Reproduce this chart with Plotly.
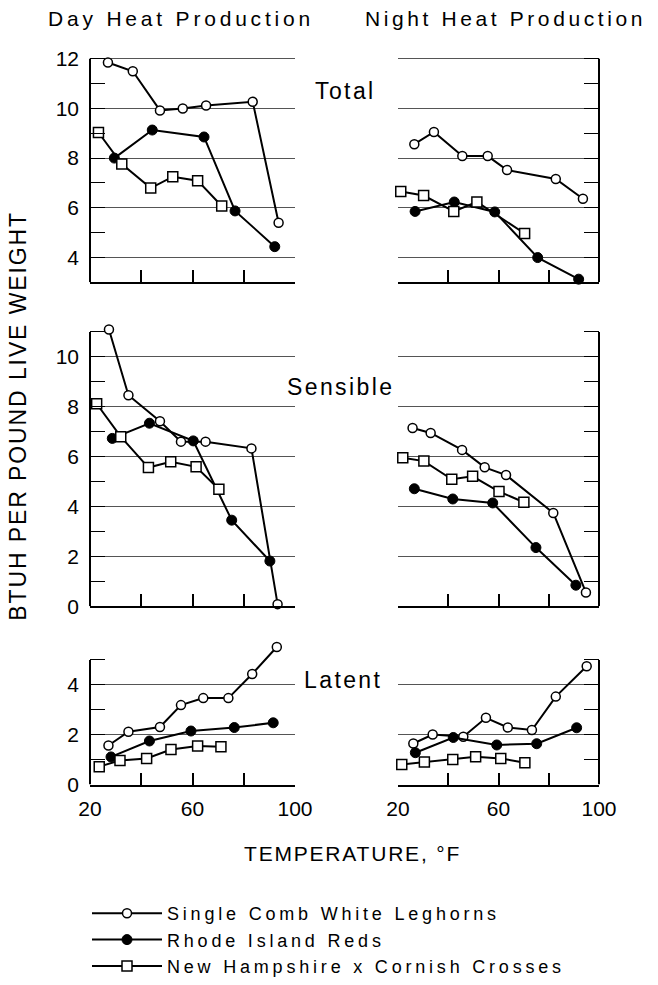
"""Heat production of three chicken breeds, day vs night (total / sensible / latent)."""

import plotly.graph_objects as go

W, H = 658, 985
FONT = "Liberation Sans, Arial, sans-serif"

BREEDS = [
    "Single Comb White Leghorns",
    "Rhode Island Reds",
    "New Hampshire x Cornish Crosses",
]

# Day - total
day_total_leg_t = [27.0, 36.7, 47.3, 56.2, 65.3, 83.5, 93.6]
day_total_leg_v = [11.85, 11.5, 9.92, 10.0, 10.12, 10.27, 5.39]
day_total_rir_t = [29.5, 44.3, 64.5, 76.6, 92.1]
day_total_rir_v = [8.0, 9.13, 8.85, 5.87, 4.43]
day_total_nh_t = [23.3, 32.4, 43.7, 52.3, 62.0, 71.4]
day_total_nh_v = [9.03, 7.76, 6.79, 7.25, 7.09, 6.07]

# Night - total
night_total_leg_t = [26.5, 34.3, 45.6, 55.7, 63.4, 82.8, 93.6]
night_total_leg_v = [8.56, 9.05, 8.08, 8.08, 7.52, 7.16, 6.36]
night_total_rir_t = [26.8, 42.4, 58.5, 75.6, 91.9]
night_total_rir_v = [5.85, 6.23, 5.83, 3.99, 3.12]
night_total_nh_t = [21.1, 30.2, 42.2, 51.4, 70.4]
night_total_nh_v = [6.65, 6.49, 5.85, 6.23, 4.96]

# Day - sensible
day_sens_leg_t = [27.4, 35.0, 47.3, 55.5, 65.1, 83.0, 93.2]
day_sens_leg_v = [11.1, 8.46, 7.42, 6.6, 6.6, 6.33, 0.08]
day_sens_rir_t = [28.7, 43.2, 60.3, 75.3, 90.2]
day_sens_rir_v = [6.73, 7.34, 6.63, 3.45, 1.81]
day_sens_nh_t = [22.6, 32.0, 42.8, 51.5, 61.4, 70.3]
day_sens_nh_v = [8.12, 6.8, 5.56, 5.79, 5.59, 4.69]

# Night - sensible
night_sens_leg_t = [25.8, 33.0, 45.5, 54.5, 63.0, 81.8, 94.8]
night_sens_leg_v = [7.15, 6.95, 6.27, 5.57, 5.26, 3.74, 0.55]
night_sens_rir_t = [26.5, 41.8, 57.7, 74.9, 90.8]
night_sens_rir_v = [4.71, 4.3, 4.14, 2.35, 0.84]
night_sens_nh_t = [21.9, 30.3, 41.4, 49.7, 60.2, 70.1]
night_sens_nh_v = [5.95, 5.82, 5.09, 5.21, 4.6, 4.17]

# Day - latent
day_lat_leg_t = [27.2, 35.0, 47.3, 55.5, 64.2, 74.0, 83.3, 92.9]
day_lat_leg_v = [1.57, 2.12, 2.31, 3.19, 3.47, 3.47, 4.44, 5.52]
day_lat_rir_t = [28.2, 43.2, 59.4, 76.3, 91.5]
day_lat_rir_v = [1.11, 1.75, 2.15, 2.29, 2.48]
day_lat_nh_t = [23.6, 31.7, 42.1, 51.6, 62.0, 71.1]
day_lat_nh_v = [0.72, 0.97, 1.05, 1.41, 1.55, 1.52]

# Night - latent
night_lat_leg_t = [26.1, 33.8, 46.0, 55.0, 63.7, 73.3, 82.8, 95.1]
night_lat_leg_v = [1.65, 2.01, 1.92, 2.68, 2.29, 2.19, 3.53, 4.75]
night_lat_rir_t = [26.9, 42.0, 59.3, 75.2, 91.1]
night_lat_rir_v = [1.28, 1.89, 1.59, 1.64, 2.28]
night_lat_nh_t = [21.5, 30.5, 41.8, 50.9, 60.9, 70.5]
night_lat_nh_v = [0.81, 0.91, 1.01, 1.12, 1.05, 0.88]

temp_ticks = [20, 40, 60, 80, 100]
temp_labels = ["20", "", "60", "", "100"]

panels = [
    # (leghorn, rir, nh) per subplot, row-major: day/night for total, sensible, latent
    ((day_total_leg_t, day_total_leg_v), (day_total_rir_t, day_total_rir_v),
     (day_total_nh_t, day_total_nh_v)),
    ((night_total_leg_t, night_total_leg_v), (night_total_rir_t, night_total_rir_v),
     (night_total_nh_t, night_total_nh_v)),
    ((day_sens_leg_t, day_sens_leg_v), (day_sens_rir_t, day_sens_rir_v),
     (day_sens_nh_t, day_sens_nh_v)),
    ((night_sens_leg_t, night_sens_leg_v), (night_sens_rir_t, night_sens_rir_v),
     (night_sens_nh_t, night_sens_nh_v)),
    ((day_lat_leg_t, day_lat_leg_v), (day_lat_rir_t, day_lat_rir_v),
     (day_lat_nh_t, day_lat_nh_v)),
    ((night_lat_leg_t, night_lat_leg_v), (night_lat_rir_t, night_lat_rir_v),
     (night_lat_nh_t, night_lat_nh_v)),
]

markers = [
    dict(symbol="circle", size=9, color="white", line=dict(color="black", width=1.5)),
    dict(symbol="circle", size=10, color="black", line=dict(color="black", width=1)),
    dict(symbol="square", size=10, color="white", line=dict(color="black", width=1.5)),
]


def spaced(text, px):
    return f'<span style="letter-spacing:{px}px">{text}</span>'


def px_x(p):
    return p / W


def px_y(p):
    return 1 - p / H


left_cols = (90, 295)
right_cols = (398, 599)
# (top px, bottom px, y range, labelled ticks)
rows = [
    (59, 283, [3, 12], [4, 6, 8, 10, 12]),
    (333, 608, [0, 11], [0, 2, 4, 6, 8, 10]),
    (662, 787, [0, 5], [0, 2, 4]),
]
HEADROOM = 24  # px the plot area reaches above the drawn frame, so top points aren't cut

tick_font = dict(family=FONT, size=21, color="black")
layout_axes = {}
shapes = []
n = 0
for r, (top, bot, yrange, yticks) in enumerate(rows):
    ppu = (bot - top) / (yrange[1] - yrange[0])
    odd = [v for v in range(yrange[0], yrange[1] + 1) if v not in yticks]
    for c, (x0, x1) in enumerate([left_cols, right_cols]):
        n += 1
        sfx = "" if n == 1 else str(n)
        layout_axes["xaxis" + sfx] = dict(
            domain=[px_x(x0), px_x(x1)], range=[20, 100], anchor="y" + sfx,
            showline=True, linewidth=2, linecolor="black",
            ticks="inside", ticklen=12, tickwidth=1.5, tickcolor="black",
            tickvals=temp_ticks, ticktext=temp_labels,
            showticklabels=(r == 2), tickfont=tick_font, ticklabelstandoff=4,
            showgrid=False, zeroline=False, fixedrange=True, automargin=False,
        )
        layout_axes["yaxis" + sfx] = dict(
            domain=[px_y(bot), px_y(top - HEADROOM)],
            range=[yrange[0], yrange[1] + HEADROOM / ppu], anchor="x" + sfx,
            side="left" if c == 0 else "right",
            showline=False,
            ticks="inside", ticklen=15, tickwidth=1.2, tickcolor="black",
            tickvals=yticks, showticklabels=(c == 0),
            tickfont=tick_font, ticklabelstandoff=10,
            showgrid=True, gridcolor="#555", gridwidth=1,
            minor=dict(tickvals=odd, ticks="inside", ticklen=15, tickwidth=1.2,
                       tickcolor="black", showgrid=False),
            zeroline=False, fixedrange=True, automargin=False,
        )
        # frame line of the y axis, only over the labelled range
        shapes.append(dict(
            type="line", xref=f"x{sfx} domain", yref="y" + sfx,
            x0=c, x1=c, y0=yrange[0], y1=yrange[1],
            line=dict(color="black", width=2),
        ))

fig = go.Figure()
for i, series in enumerate(panels):
    sfx = "" if i == 0 else str(i + 1)
    for j, (t, v) in enumerate(series):
        fig.add_trace(go.Scatter(
            x=t, y=v, xaxis="x" + sfx, yaxis="y" + sfx,
            mode="lines+markers",
            line=dict(color="black", width=2),
            marker=markers[j],
            cliponaxis=False,
            name=spaced(BREEDS[j], 3.8),
            showlegend=(i == 0),
        ))

annotations = [
    # text, spacing, x px, y px, size
    ("Day Heat Production", 3.8, 181, 19, 21),
    ("Night Heat Production", 3.6, 505, 19, 21),
    ("Total", 2.4, 345, 91, 23),
    ("Sensible", 2.4, 341, 388, 23),
    ("Latent", 2.4, 343, 682, 23),
    ("TEMPERATURE, °F", 1.8, 352, 856, 21),
]
ann_list = [
    dict(text=spaced(t, s), x=px_x(x), y=px_y(y), xref="paper", yref="paper",
         xanchor="center", yanchor="middle", showarrow=False,
         font=dict(family=FONT, size=sz, color="black"))
    for t, s, x, y, sz in annotations
]
ann_list.append(dict(
    text=spaced("BTUH PER POUND LIVE WEIGHT", 1.9), x=px_x(18), y=px_y(417),
    xref="paper", yref="paper", xanchor="center", yanchor="middle",
    textangle=-90, showarrow=False, font=dict(family=FONT, size=23, color="black"),
))

fig.update_layout(
    width=W, height=H,
    margin=dict(l=0, r=0, t=0, b=0),
    paper_bgcolor="white", plot_bgcolor="rgba(0,0,0,0)",
    showlegend=True,
    legend=dict(
        x=px_x(87), y=px_y(898), xanchor="left", yanchor="top",
        itemwidth=70, bgcolor="rgba(0,0,0,0)",
        font=dict(family=FONT, size=18, color="black"),
        tracegroupgap=0,
    ),
    annotations=ann_list,
    shapes=shapes,
    **layout_axes,
)

# page body has an 8px default margin; drop it so the figure sits at 0,0
fig.write_html(
    "out.html",
    config={"displayModeBar": False},
    post_script="document.body.style.margin='0';",
)
